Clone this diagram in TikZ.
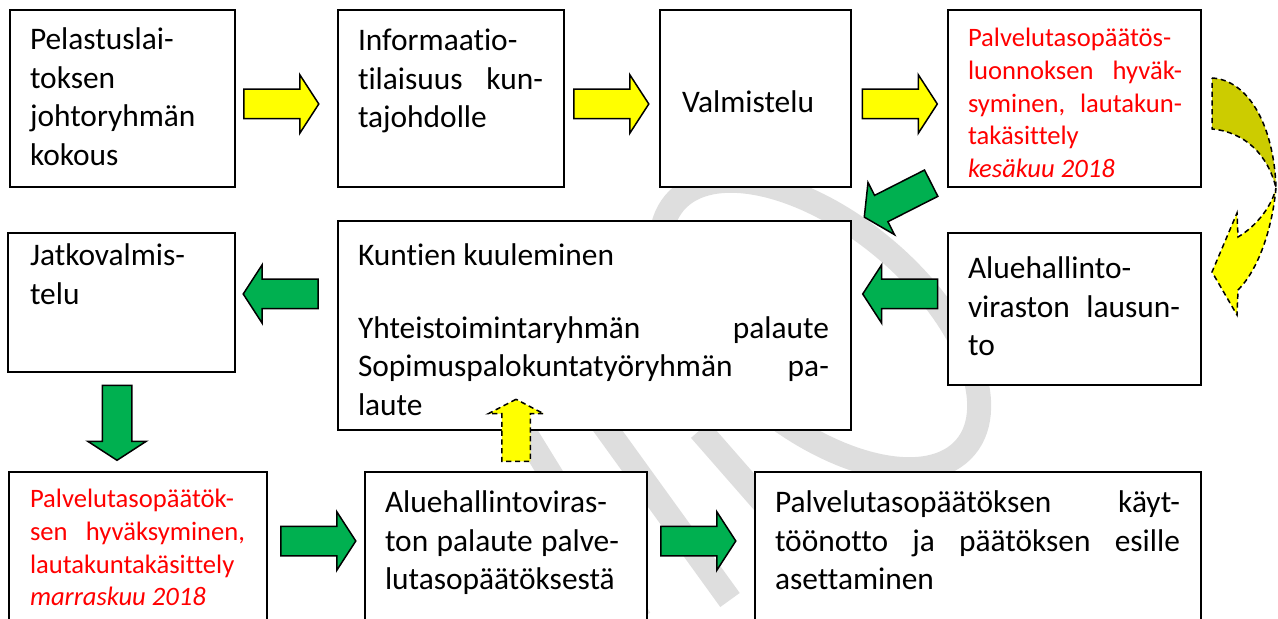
\documentclass[tikz,border=0pt]{standalone}
\usepackage{fontspec}
\setmainfont{Carlito}[Ligatures=NoCommon]
\usetikzlibrary{positioning,shapes.arrows}
\definecolor{ink}{HTML}{000000}
\definecolor{flowyellow}{HTML}{FFFF00}
\definecolor{flowolive}{HTML}{CCCC00}
\definecolor{flowgreen}{HTML}{00B050}
\definecolor{flowred}{HTML}{FF0000}
\definecolor{watermark}{HTML}{DEDEDE}
\setlength{\parindent}{0pt}
\hyphenpenalty=10000
\exhyphenpenalty=10000
\tikzset{
  stage/.style={draw=ink, fill=white, line width=1pt, anchor=north west,
                inner sep=0pt, outer sep=0pt},
  stagetext/.style={anchor=north west, inner sep=0pt, outer sep=0pt, align=justify,
                    font=\fontsize{15.7}{19.2}\selectfont},
  redtext/.style={stagetext, text=flowred, font=\fontsize{13.3}{16.3}\selectfont},
  blockarrow/.style={single arrow, draw=ink, line width=0.75pt, inner xsep=0pt,
                     inner ysep=7pt, minimum width=0pt, minimum height=37.5pt,
                     single arrow head extend=7.25pt, single arrow tip angle=114},
  yellowarrow/.style={blockarrow, fill=flowyellow},
  greenarrow/.style={blockarrow, fill=flowgreen},
  dashline/.style={draw=ink, line width=0.75pt, dash pattern=on 2.6pt off 1.8pt},
  band/.style={draw=watermark, line width=12pt}
}
\begin{document}
\begin{tikzpicture}[x=0.5pt,y=-0.5pt]
  \useasboundingbox (0,0) rectangle (1278,619);
  \clip (0,0) rectangle (1278,619);

  % faint watermark behind the boxes
  \draw[band, rotate around={-40:(820,325)}] (820,325) ellipse [x radius=190, y radius=100];
  \draw[band] (505,400) -- (640,619);
  \draw[band] (600,420) -- (730,600);
  \draw[band] (700,430) -- (770,510);

  % first row
  \node[stage, minimum width=112.5pt, minimum height=88.5pt] (johto) at (10,10) {};
  \node[stagetext, text width=100pt, below right=6.5pt and 10pt of johto.north west]
    (johtoText) {\strut Pelastuslai-\\toksen\\johtoryhmän\\kokous};

  \node[stage, minimum width=113pt, minimum height=88.5pt] (tilaisuus) at (338,10) {};
  \node[stagetext, text width=92.5pt, below right=7pt and 10pt of tilaisuus.north west]
    (tilaisuusText) {\strut Informaatio-\\tilaisuus\hfill kun-\\tajohdolle};

  \node[stage, minimum width=95.5pt, minimum height=88.5pt] (valmistelu) at (660,10) {};
  \node[stagetext, text width=80pt, below right=38pt and 11pt of valmistelu.north west]
    (valmisteluText) {\strut Valmistelu};

  \node[stage, minimum width=126.5pt, minimum height=88.5pt] (luonnos) at (948,10) {};
  \node[redtext, text width=107pt, below right=7pt and 10pt of luonnos.north west]
    (luonnosText) {\strut Palvelutasopäätös-\\luonnoksen\hfill hyväk-\\syminen,\hfill lautakun-\\takäsittely\\\textit{kesäkuu 2018}};

  % second row
  \node[stage, minimum width=113.5pt, minimum height=69.5pt] (jatko) at (8,233) {};
  \node[stagetext, text width=100pt, below right=3pt and 11pt of jatko.north west]
    (jatkoText) {\strut Jatkovalmis-\\telu};

  \node[stage, minimum width=256.5pt, minimum height=104.5pt] (kuuleminen) at (338,221) {};
  \node[stagetext, text width=235.5pt, below right=9pt and 10pt of kuuleminen.north west]
    (kuuleminenText) {\strut Kuntien kuuleminen\\[17pt]Yhteistoimintaryhmän\hfill palaute\\Sopimuspalokuntatyöryhmän\hfill pa-\\laute};

  \node[stage, minimum width=126.5pt, minimum height=76pt] (lausunto) at (948,233) {};
  \node[stagetext, text width=106pt, below right=9.5pt and 10pt of lausunto.north west]
    (lausuntoText) {\strut Aluehallinto-\\viraston\hfill lausun-\\to};

  % third row, cut by the lower edge
  \node[stage, minimum width=129pt, minimum height=80pt] (hyvaksynta) at (9,472) {};
  \node[redtext, text width=107.5pt, below right=6.5pt and 10.5pt of hyvaksynta.north west]
    (hyvaksyntaText) {\strut Palvelutasopäätök-\\sen\hfill hyväksyminen,\\lautakuntakäsittely\\\textit{marraskuu 2018}};

  \node[stage, minimum width=141pt, minimum height=80pt] (palaute) at (365,472) {};
  \node[stagetext, text width=117pt, below right=7pt and 10pt of palaute.north west]
    (palauteText) {\strut Aluehallintoviras-\\ton\hfill palaute\hfill palve-\\lutasopäätöksestä};

  \node[stage, minimum width=223pt, minimum height=80pt] (kayttoonotto) at (755,472) {};
  \node[stagetext, text width=202.5pt, below right=7pt and 10pt of kayttoonotto.north west]
    (kayttoonottoText) {\strut Palvelutasopäätöksen\hfill käyt-\\töönotto\hfill ja\hfill päätöksen\hfill esille\\asettaminen};

  % block arrows between the stages
  \node[yellowarrow] (nuoli1) at (276.5,104) {};
  \node[yellowarrow] (nuoli2) at (606.5,104) {};
  \node[yellowarrow] (nuoli3) at (895,104) {};
  \node[greenarrow, rotate=206.9] (nuoli4) at (902,198) {};
  \node[greenarrow, rotate=180] (nuoli5) at (905,294) {};
  \node[greenarrow, rotate=180] (nuoli6) at (285.5,294) {};
  \node[greenarrow, rotate=270] (nuoli7) at (117,418) {};
  \node[greenarrow] (nuoli8) at (313.5,541) {};
  \node[greenarrow] (nuoli9) at (693.5,541) {};
  \node[yellowarrow, dashline, rotate=90, inner ysep=6.75pt, minimum height=31pt,
        single arrow head extend=6.75pt, single arrow tip angle=125] (nuoli10) at (516,434) {};

  % twisted curved arrow on the right
  \path[fill=flowolive, dashline] (1212,78) .. controls (1248,80) and (1274,125) .. (1276,188)
    .. controls (1268,155) and (1245,132) .. (1212,129) -- cycle;
  \path[fill=flowyellow, dashline] (1276,188) .. controls (1272,230) and (1258,270) .. (1238,290)
    -- (1237,315) -- (1212,272) -- (1237,213) -- (1238,237)
    .. controls (1258,225) and (1272,205) .. (1276,188) -- cycle;
\end{tikzpicture}
\end{document}
